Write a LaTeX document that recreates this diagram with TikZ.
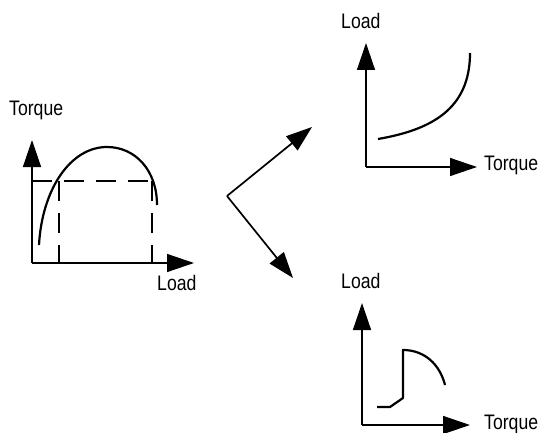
\documentclass[tikz,border=0pt]{standalone}
\usepackage{fontspec}
\newfontfamily\plotfont[FakeStretch=0.84]{Liberation Sans}
\usetikzlibrary{arrows.meta}
\tikzset{
  axis/.style={line width=1.4pt, draw=black, -{Triangle[length=27pt, width=18pt]}},
  curve/.style={line width=2.2pt, draw=black, line cap=butt, line join=round},
  guide/.style={line width=1.3pt, draw=black, dash pattern=on 20pt off 12pt},
  pointer/.style={line width=1.7pt, draw=black, -{Triangle[length=26pt, width=18pt]}},
  axislabel/.style={font=\plotfont\fontsize{21}{21}\selectfont, inner sep=0pt, anchor=base west},
}

\begin{document}
\begin{tikzpicture}[x=1pt, y=-1pt]
\useasboundingbox (0,0) rectangle (540,433);
% left plot: torque against load
\coordinate (lo) at (32.000,263.000);
\draw[axis] (lo) -- (32.000,140.000);
\draw[axis] (lo) -- (194.000,263.000);
\draw[guide] (32.000,181.000) -- (152.000,181.000);
\draw[guide] (59.000,181.000) -- (59.000,263.000);
\draw[guide] (152.000,181.000) -- (152.000,263.000);
\draw[curve] (39.000,245.000) .. controls (42.000,190.000) and (70.000,147.000) .. (107.000,147.000)
  .. controls (135.000,147.000) and (157.000,170.000) .. (157.000,205.000);
\node[axislabel] (ltorque) at (9.000,115.600) {Torque};
\node[axislabel] (lload) at (157.000,290.000) {Load};
% upper right plot: load against torque
\coordinate (uo) at (366.000,167.000);
\draw[axis] (uo) -- (366.000,43.000);
\draw[axis] (uo) -- (477.000,167.000);
\draw[curve] (378.000,139.000) .. controls (430.000,130.000) and (470.000,110.000) .. (470.000,53.000);
\node[axislabel] (uload) at (341.000,28.600) {Load};
\node[axislabel] (utorque) at (484.000,170.600) {Torque};
% lower right plot: load against torque
\coordinate (bo) at (362.000,425.000);
\draw[axis] (bo) -- (362.000,303.000);
\draw[axis] (bo) -- (470.000,425.000);
\draw[curve] (377.000,407.000) -- (390.000,407.000) -- (403.000,398.000) -- (403.000,350.000)
  .. controls (425.000,350.000) and (440.000,365.000) .. (445.000,385.000);
\node[axislabel] (bload) at (341.000,288.600) {Load};
\node[axislabel] (btorque) at (484.000,429.000) {Torque};
% pointers from the left plot to the two right plots
\coordinate (fork) at (227.000,196.000);
\coordinate (uptip) at (312.000,127.000);
\coordinate (downtip) at (293.000,278.000);
\draw[pointer] (fork) -- (uptip);
\draw[pointer] (fork) -- (downtip);
\end{tikzpicture}
\end{document}
